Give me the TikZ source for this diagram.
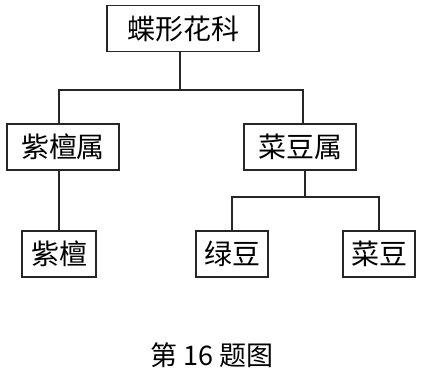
\documentclass[tikz,border=0pt]{standalone}
\usepackage{fontspec}
\setmainfont{Noto Sans CJK SC}
\usepackage{tikz}
\usetikzlibrary{positioning,calc}
\tikzset{
  taxon/.style={draw=black!85, line width=1.2pt, inner sep=0pt,
                minimum height=46pt, font=\fontsize{28}{31}\selectfont},
  link/.style={draw=black!85, line width=1.2pt}
}
\begin{document}
\begin{tikzpicture}[x=1pt,y=-1pt]
    \useasboundingbox (0,0) rectangle (421,373);
    % family
    \node[taxon,minimum width=152pt] (fam) at (183,28.5) {蝶形花科};
    % genera
    \node[taxon,minimum width=112pt] (zts) at (63,147) {紫檀属};
    \node[taxon,minimum width=112pt] (cds) at (300,147) {菜豆属};
    % species
    \node[taxon,minimum width=74pt] (zt) at (59,254) {紫檀};
    \node[taxon,minimum width=72pt] (ld) at (232,254) {绿豆};
    \node[taxon,minimum width=72pt] (cd) at (379,254) {菜豆};
    % tree lines
    \coordinate (jfam) at (180,90);
    \coordinate (jcds) at (305,197);
    \draw[link] (fam.south -| jfam) -- (jfam);
    \draw[link] (zt.north) -- (zt.north |- zts.south);
    \draw[link] (zt.north |- zts.north) |- (jfam) -| ($(cds.north)+(3,0)$);
    \draw[link] (cds.south -| jcds) -- (jcds);
    \draw[link] (ld.north) |- (jcds) -| (cd.north);
    % caption
    \node[font=\fontsize{27}{30}\selectfont] (cap) at (212,355) {第 16 题图};
\end{tikzpicture}
\end{document}
